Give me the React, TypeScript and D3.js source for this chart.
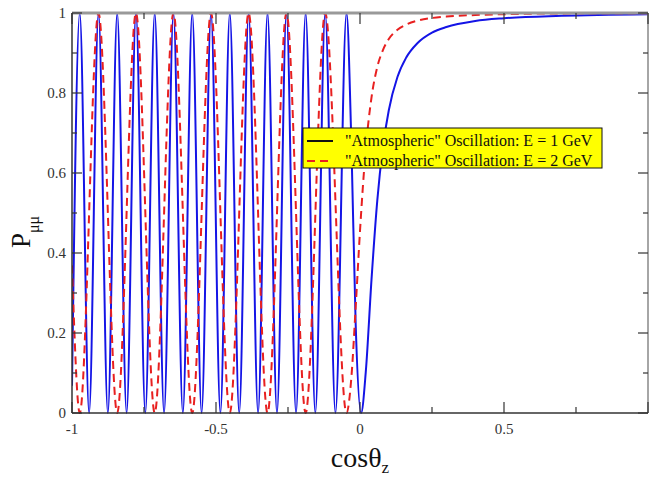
import React from "react";
import * as d3 from "d3";

// E = 1 GeV (solid blue): cos(theta_z) positions and P_mumu values
const blueCos = [
  -1, -0.9731, -0.9405, -0.908, -0.8755, -0.843, -0.8104, -0.7779, -0.7454, -0.7128,
  -0.6803, -0.6477, -0.6151, -0.5825, -0.55, -0.5173, -0.4847, -0.4521, -0.4194,
  -0.3867, -0.3539, -0.3211, -0.2883, -0.2553, -0.2221, -0.1888, -0.1551, -0.1208,
  -0.0853, -0.0468, -0.03, -0.015, 0.0038, 0.02, 0.04, 0.06, 0.08, 0.1, 0.13, 0.16,
  0.2, 0.25, 0.3, 0.4, 0.5, 0.7, 1.0,
];
const blueP = [
  0.068, 1, 0, 1, 0, 1, 0, 1, 0, 1,
  0, 1, 0, 1, 0, 1, 0, 1, 0,
  1, 0, 1, 0, 1, 0, 1, 0, 1,
  0, 1, 0.676, 0.222, 0, 0.102, 0.334, 0.531, 0.667, 0.757, 0.84, 0.888,
  0.925, 0.951, 0.965, 0.98, 0.987, 0.993, 0.997,
];

// E = 2 GeV (dashed red)
const redCos = [
  -1, -0.9731, -0.908, -0.843, -0.7779, -0.7128, -0.6477, -0.5825, -0.5173, -0.4521,
  -0.3867, -0.3211, -0.2553, -0.1888, -0.1208, -0.0468, -0.03, -0.015, 0, 0.02, 0.04,
  0.06, 0.08, 0.1, 0.13, 0.16, 0.2, 0.25, 0.3, 0.4, 0.5, 0.7, 1.0,
];
const redP = [
  0.369, 0, 1, 0, 1, 0, 1, 0, 1, 0,
  1, 0, 1, 0, 1, 0, 0.0885, 0.2645, 0.455, 0.66, 0.789,
  0.865, 0.908, 0.935, 0.958, 0.971, 0.981, 0.9875, 0.991, 0.995, 0.997, 0.999, 0.9995,
];

const xMajor = [-1, -0.5, 0, 0.5, 1];
const xMajorLabels = ["-1", "-0.5", "0", "0.5", ""];
const xMinor = [-0.75, -0.25, 0.25, 0.75];
const yMajor = [0, 0.2, 0.4, 0.6, 0.8, 1];
const yMajorLabels = ["0", "0.2", "0.4", "0.6", "0.8", "1"];
const yMinor = [0.1, 0.3, 0.5, 0.7, 0.9];

const legendLabels = [
  "\"Atmospheric\" Oscillation: E = 1 GeV",
  "\"Atmospheric\" Oscillation: E = 2 GeV",
];

const W = 649;
const H = 477;
const L = 72, R = 648, T = 13, B = 413;

export default function App() {
  const x = d3.scaleLinear().domain([-1, 1]).range([L, R]);
  const y = d3.scaleLinear().domain([0, 1]).range([B, T]);
  const line = d3
    .line<[number, number]>()
    .x((d) => x(d[0]))
    .y((d) => y(d[1]))
    .curve(d3.curveMonotoneX);
  const blueData = blueCos.map((c, i) => [c, blueP[i]] as [number, number]);
  const redData = redCos.map((c, i) => [c, redP[i]] as [number, number]);
  const font = "'Liberation Serif', 'Times New Roman', serif";
  const blue = "#1414e6";
  const red = "#e82020";

  return (
    <svg
      width={W}
      height={H}
      style={{ position: "absolute", left: 0, top: 0, background: "#fff" }}
      fontFamily={font}
    >
      <rect x={0} y={0} width={W} height={H} fill="#fff" />
      <defs>
        <clipPath id="plot">
          <rect x={L} y={T - 2} width={R - L} height={B - T + 4} />
        </clipPath>
      </defs>
      <g clipPath="url(#plot)">
        <path d={line(blueData) || ""} fill="none" stroke={blue} strokeWidth={2} />
        <path
          d={line(redData) || ""}
          fill="none"
          stroke={red}
          strokeWidth={2}
          strokeDasharray="8,5"
        />
      </g>

      {/* frame */}
      <line x1={L} x2={R} y1={T} y2={T} stroke="#999" strokeWidth={3} />
      <line x1={R} x2={R} y1={T} y2={B} stroke="#888" strokeWidth={1.5} />
      <line x1={L} x2={L} y1={T} y2={B} stroke="#333" strokeWidth={1.5} />
      <line x1={L} x2={R} y1={B} y2={B} stroke="#333" strokeWidth={1.5} />

      {/* x ticks */}
      {xMajor.map((v, i) => (
        <g key={"xm" + i}>
          <line x1={x(v)} x2={x(v)} y1={B} y2={B - 11} stroke="#333" strokeWidth={1.2} />
          <line x1={x(v)} x2={x(v)} y1={T} y2={T + 11} stroke="#333" strokeWidth={1.2} />
          <text x={x(v)} y={434} fontSize={15} textAnchor="middle" fill="#333">
            {xMajorLabels[i]}
          </text>
        </g>
      ))}
      {xMinor.map((v, i) => (
        <g key={"xn" + i}>
          <line x1={x(v)} x2={x(v)} y1={B} y2={B - 6} stroke="#333" strokeWidth={1.2} />
          <line x1={x(v)} x2={x(v)} y1={T} y2={T + 6} stroke="#333" strokeWidth={1.2} />
        </g>
      ))}

      {/* y ticks */}
      {yMajor.map((v, i) => (
        <g key={"ym" + i}>
          <line x1={L} x2={L + 10} y1={y(v)} y2={y(v)} stroke="#333" strokeWidth={1.2} />
          <line x1={R} x2={R - 10} y1={y(v)} y2={y(v)} stroke="#333" strokeWidth={1.2} />
          <text x={66} y={y(v) + 5} fontSize={15} textAnchor="end" fill="#333">
            {yMajorLabels[i]}
          </text>
        </g>
      ))}
      {yMinor.map((v, i) => (
        <g key={"yn" + i}>
          <line x1={L} x2={L + 5} y1={y(v)} y2={y(v)} stroke="#333" strokeWidth={1.2} />
          <line x1={R} x2={R - 5} y1={y(v)} y2={y(v)} stroke="#333" strokeWidth={1.2} />
        </g>
      ))}

      {/* axis titles */}
      <text transform="translate(30,248) rotate(-90)" fontSize={27} fill="#111">
        P
        <tspan dy={9} fontSize={16}>
          μμ
        </tspan>
      </text>
      <text x={360} y={467} fontSize={28} textAnchor="middle" fill="#111">
        cosθ
        <tspan dy={6} fontSize={17}>
          z
        </tspan>
      </text>

      {/* legend */}
      <rect x={303} y={128} width={299} height={40} fill="#ffff00" stroke="#111" strokeWidth={1} />
      <line x1={307} x2={333} y1={141} y2={141} stroke="#111" strokeWidth={2} />
      <line
        x1={307}
        x2={333}
        y1={161}
        y2={161}
        stroke={red}
        strokeWidth={2}
        strokeDasharray="8,5"
      />
      <text x={345} y={146} fontSize={16} fill="#111">
        {legendLabels[0]}
      </text>
      <text x={345} y={166} fontSize={16} fill="#111">
        {legendLabels[1]}
      </text>
    </svg>
  );
}
